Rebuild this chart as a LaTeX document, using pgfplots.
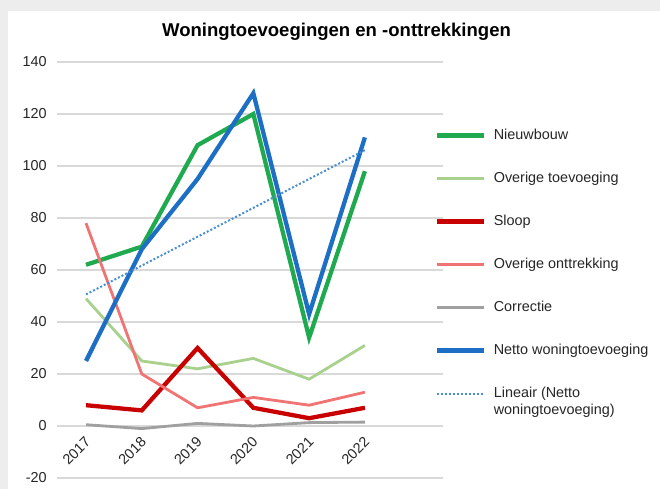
\documentclass[border=0pt]{standalone}
\usepackage{pgfplots}
\pgfplotsset{compat=1.18}
\usepackage{fontspec}
\setmainfont{Liberation Sans}
\definecolor{cNieuw}{HTML}{1FAA4F}
\definecolor{cOvT}{HTML}{A9D18E}
\definecolor{cSloop}{HTML}{C80000}
\definecolor{cOvO}{HTML}{F07473}
\definecolor{cCorr}{HTML}{A0A0A0}
\definecolor{cNetto}{HTML}{1C6FC4}
\definecolor{cTrend}{HTML}{4A8FD0}
\definecolor{gridc}{HTML}{D9D9D9}
\begin{document}
\begin{tikzpicture}
\fill[black!7] (0,0) rectangle (495pt,366.75pt);
\fill[white] (6pt,0) rectangle (495pt,358.5pt);
\path[use as bounding box] (0,0) rectangle (495pt,366.75pt);
\node[anchor=base, font=\bfseries\fontsize{13.9}{16}\selectfont] at (252.4pt,339pt) {Woningtoevoegingen en -onttrekkingen};
\begin{axis}[
  at={(42.75pt,8.25pt)}, anchor=south west, scale only axis,
  width=289.5pt, height=312pt,
  xmin=-0.52, xmax=6.40, ymin=-20, ymax=140,
  axis x line=middle, axis y line=left,
  x axis line style={-, draw=gridc, line width=0.9pt},
  y axis line style={draw=none},
  xtick={0,1,2,3,4,5}, xticklabels={2017,2018,2019,2020,2021,2022},
  ytick={-20,0,20,40,60,80,100,120,140},
  ymajorgrids, grid style={draw=gridc, line width=0.9pt},
  major tick length=0pt,
  tick label style={font=\fontsize{10.8}{13}\selectfont, text=black!85},
  /pgf/number format/assume math mode=true,
  xticklabel style={anchor=east, inner sep=0pt, xshift=1.5pt, yshift=-10pt, rotate=45},
  yticklabel style={inner sep=0pt, xshift=-7.5pt},
  legend cell align=left,
  legend image code/.code={\draw[#1] (0pt,0pt) -- (35pt,0pt);},
  legend style={draw=none, fill=none, at={(0.979,0.84)}, anchor=north west,
    inner sep=0pt, outer sep=0pt, row sep=21.75pt, column sep=6pt,
    font=\fontsize{10.8}{13}\selectfont, text=black!85,
    nodes={inner sep=0pt, text height=8pt, text depth=2.5pt}},
]
\addplot[cNieuw, line width=3.2pt] coordinates {(0,62) (1,69) (2,108) (3,120) (4,34) (5,98)};
\addlegendentry{Nieuwbouw}
\addplot[cOvT, line width=2.1pt] coordinates {(0,49) (1,25) (2,22) (3,26) (4,18) (5,31)};
\addlegendentry{Overige toevoeging}
\addplot[cSloop, line width=3.2pt] coordinates {(0,8) (1,6) (2,30) (3,7) (4,3) (5,7)};
\addlegendentry{Sloop}
\addplot[cOvO, line width=2.1pt] coordinates {(0,78) (1,20) (2,7) (3,11) (4,8) (5,13)};
\addlegendentry{Overige onttrekking}
\addplot[cCorr, line width=2.1pt] coordinates {(0,0.5) (1,-1) (2,1) (3,0) (4,1.3) (5,1.5)};
\addlegendentry{Correctie}
\addplot[cNetto, line width=3.2pt] coordinates {(0,25) (1,68) (2,95) (3,128) (4,43) (5,111)};
\addlegendentry{Netto woningtoevoeging}
\addplot[cTrend, line width=1.5pt, dash pattern=on 1.5pt off 1.5pt] coordinates {(0,50.6) (5,106.1)};
\addlegendentry{\begin{tabular}[t]{@{}l@{}}Lineair (Netto\\woningtoevoeging)\end{tabular}}
\end{axis}
\end{tikzpicture}
\end{document}
